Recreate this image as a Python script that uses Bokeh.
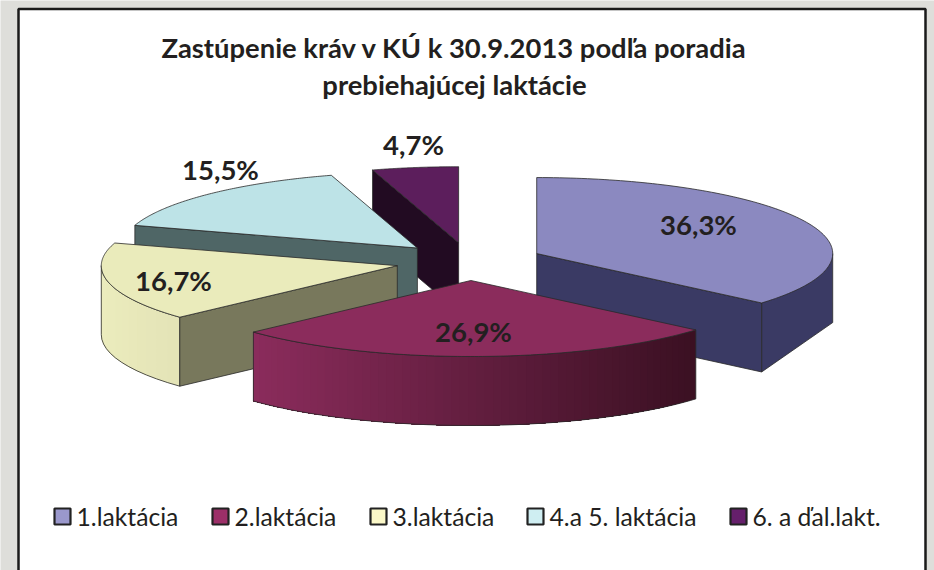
import numpy as np
from bokeh.plotting import figure
from bokeh.embed import file_html
from bokeh.resources import INLINE
from bokeh.models import Range1d, Label

# Data
categories = ["1.laktácia", "2.laktácia", "3.laktácia", "4.a 5. laktácia", "6. a ďal.lakt."]
shares = [36.3, 26.9, 16.7, 15.5, 4.7]
labels = ["36,3%", "26,9%", "16,7%", "15,5%", "4,7%"]
title_lines = ["Zastúpenie kráv v KÚ k 30.9.2013 podľa poradia", "prebiehajúcej laktácie"]

# Style
top_cols = ["#8b89c0", "#8b2c5c", "#eaebbb", "#bde3e7", "#5c1e5c"]
cut_cols = ["#3a3a64", None, "#78785c", "#4f6666", "#220b22"]
key_cols = ["#9a98cc", "#9c2f68", "#fbf8c8", "#cfeef2", "#651f6b"]
edge = "#2a2a2a"

W, H = 934, 570
RX, RY, DEPTH = 296, 76, 69
EXPLODE = 74
CX, CY = 469, 261

p = figure(width=W, height=H, output_backend="svg", toolbar_location=None,
           x_range=Range1d(0, W), y_range=Range1d(H, 0),
           min_border=0, outline_line_color=None, background_fill_color="#dededa",
           border_fill_color="#dededa")
p.axis.visible = False
p.grid.visible = False

# white panel
p.quad(left=[18], right=[925], top=[8.5], bottom=[590], fill_color="white",
       line_color="#1a1a1a", line_width=2.5)

fr = np.array(shares) / sum(shares)
ends = np.cumsum(fr) * 2 * np.pi
starts = np.concatenate([[0], ends[:-1]])

def apex(i):
    m = (starts[i] + ends[i]) / 2
    return CX + EXPLODE * np.sin(m), CY - EXPLODE * np.cos(m) * RY / RX

def rim(ax, ay, a):
    return ax + RX * np.sin(a), ay - RY * np.cos(a)

def face(xs, ys, col, lw=0.8, lc=edge):
    p.patch(list(xs), list(ys), fill_color=col, line_color=lc, line_width=lw)

def mix(c1, c2, t):
    a = [int(c1[j:j + 2], 16) for j in (1, 3, 5)]
    b = [int(c2[j:j + 2], 16) for j in (1, 3, 5)]
    return "#%02x%02x%02x" % tuple(int(round(u + (v - u) * t)) for u, v in zip(a, b))

def wall(ax, ay, a0, a1, c0, c1, n=60):
    edges = np.linspace(a0, a1, n + 1)
    xs0 = [rim(ax, ay, a)[0] for a in edges]
    ys0 = [rim(ax, ay, a)[1] for a in edges]
    lo, hi = min(xs0), max(xs0)
    # each strip reaches to the end of the wall, so no seams appear between strips
    for k in range(n):
        col = mix(c0, c1, ((xs0[k] + xs0[k + 1]) / 2 - lo) / (hi - lo))
        xx = xs0[k:] + xs0[k:][::-1]
        yy = ys0[k:] + [y + DEPTH for y in ys0[k:][::-1]]
        p.patch(xx, yy, fill_color=col, line_color=None)
    xx = xs0 + xs0[::-1]
    yy = ys0 + [y + DEPTH for y in ys0[::-1]]
    p.patch(xx, yy, fill_color=None, line_color=edge, line_width=0.8)

def top(i):
    ax, ay = apex(i)
    aa = np.linspace(starts[i], ends[i], 120)
    rx, ry = rim(ax, ay, aa)
    face([ax] + list(rx), [ay] + list(ry), top_cols[i])

def cut(i, a):
    ax, ay = apex(i)
    ex, ey = rim(ax, ay, a)
    face([ax, ex, ex, ax], [ay, ey, ey + DEPTH, ay + DEPTH], cut_cols[i])

# painter's order: back to front
cut(4, starts[4]); top(4)
ax, ay = apex(0)
wall(ax, ay, np.pi / 2, ends[0], cut_cols[0], cut_cols[0], n=1)
cut(0, ends[0]); top(0)
cut(3, starts[3]); top(3)
ax, ay = apex(2)
wall(ax, ay, starts[2], 1.5 * np.pi, "#ebecbd", "#e3e3b6", n=12)
cut(2, starts[2]); top(2)
ax, ay = apex(1)
wall(ax, ay, starts[1], ends[1], "#8b2c5c", "#3a1022")
top(1)

def txt(x, y, s, size, style="bold", col="#231f20", align="center"):
    p.add_layout(Label(x=x, y=y, text=s, text_font="Lato", text_font_size=size,
                       text_font_style=style, text_color=col, text_align=align,
                       text_baseline="middle"))

txt(454, 47, title_lines[0], "27.4px")
txt(454, 84, title_lines[1], "27.4px")

label_pos = [(698, 224), (473, 331), (173, 280), (220, 169), (413, 144)]
for s, (x, y) in zip(labels, label_pos):
    txt(x, y, s, "27.5px")

key_x = [54, 212, 370, 527, 730]
for c, k, col in zip(categories, key_x, key_cols):
    p.quad(left=[k], right=[k + 16], top=[508], bottom=[524], fill_color=col,
           line_color="#222222", line_width=2.2)
    txt(k + 22, 516, c, "24.7px", style="normal", align="left")

open("out.html", "w").write(file_html(p, INLINE))
